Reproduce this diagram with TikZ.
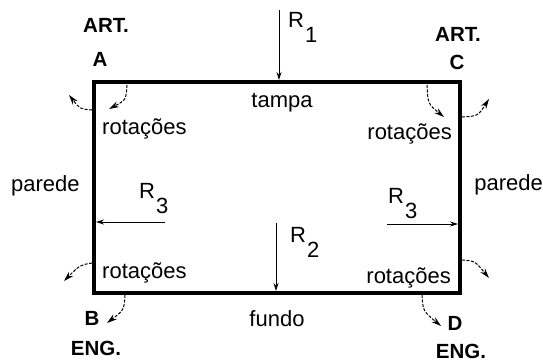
\documentclass[tikz,border=0pt]{standalone}
\usepackage{fontspec}
\setmainfont{Liberation Sans}
\usetikzlibrary{arrows.meta}
\newcommand\rlab[1]{R\kern1pt\raisebox{-15pt}{#1}}
\begin{document}
\begin{tikzpicture}[x=1pt,y=-1pt,
  txt/.style={inner sep=0pt,font=\fontsize{22}{25}\selectfont},
  btxt/.style={inner sep=0pt,font=\fontsize{20.5}{23}\selectfont\bfseries},
  wall/.style={line width=4pt,line join=miter},
  force/.style={line width=0.8pt,-{Stealth[length=8pt,width=5pt]}},
  rot/.style={line width=1pt,dash pattern=on 3pt off 1.5pt,-{Stealth[length=10pt,width=6pt]}}]
\useasboundingbox (0,0) rectangle (543,362);
% box
\coordinate (tl) at (94,82);
\coordinate (br) at (460,293);
\draw[wall] (tl) rectangle (br);
% corner labels
\node[btxt] (artA) at (106,25) {ART.};
\node[btxt] (labA) at (100,59) {A};
\node[btxt] (artC) at (458,34) {ART.};
\node[btxt] (labC) at (457,62) {C};
\node[btxt] (labB) at (92,318) {B};
\node[btxt] (engB) at (96,348) {ENG.};
\node[btxt] (labD) at (455,323) {D};
\node[btxt] (engD) at (461,351) {ENG.};
% texts
\node[txt,anchor=base] (tampa) at (282,107) {tampa};
\node[txt,anchor=base] (fundo) at (277,326) {fundo};
\node[txt,anchor=base west] (parL) at (11,191) {parede};
\node[txt,anchor=base east] (parR) at (543,190) {parede};
\node[txt,anchor=base west] (rotTL) at (102,134) {rotações};
\node[txt,anchor=base east] (rotTR) at (452,139) {rotações};
\node[txt,anchor=base west] (rotBL) at (102,278) {rotações};
\node[txt,anchor=base east] (rotBR) at (451,283) {rotações};
% force labels
\node[txt,anchor=base west] (r1) at (288,27) {\rlab{1}};
\node[txt,anchor=base west] (r2) at (290,242) {\rlab{2}};
\node[txt,anchor=base west] (r3L) at (139,198) {\rlab{3}};
\node[txt,anchor=base west] (r3R) at (388,203) {\rlab{3}};
% force arrows
\coordinate (r1s) at (279,10);  \coordinate (r1e) at (279,80);
\coordinate (r2s) at (276,223); \coordinate (r2e) at (276,291);
\coordinate (r3Ls) at (165,222); \coordinate (r3Le) at (96,222);
\coordinate (r3Rs) at (387,224); \coordinate (r3Re) at (458,224);
\draw[force] (r1s) -- (r1e);
\draw[force] (r2s) -- (r2e);
\draw[force] (r3Ls) -- (r3Le);
\draw[force] (r3Rs) -- (r3Re);
% rotation arrows
\coordinate (aOs) at (92,110);  \coordinate (aOe) at (69,95);
\coordinate (aIs) at (127,85);  \coordinate (aIe) at (109,109);
\coordinate (cIs) at (427,85);  \coordinate (cIe) at (444,117);
\coordinate (cOs) at (462,117); \coordinate (cOe) at (489,99);
\coordinate (bOs) at (92,263);  \coordinate (bOe) at (64,281);
\coordinate (bIs) at (125,295); \coordinate (bIe) at (107,323);
\coordinate (dOs) at (462,260); \coordinate (dOe) at (489,278);
\coordinate (dIs) at (422,295); \coordinate (dIe) at (441,326);
\draw[rot] (aOs) .. controls (80,109) .. (aOe);
\draw[rot] (aIs) .. controls (126,100) .. (aIe);
\draw[rot] (cIs) .. controls (428,104) .. (cIe);
\draw[rot] (cOs) .. controls (478,116) .. (cOe);
\draw[rot] (bOs) .. controls (80,265) .. (bOe);
\draw[rot] (bIs) .. controls (124,310) .. (bIe);
\draw[rot] (dOs) .. controls (475,261) .. (dOe);
\draw[rot] (dIs) .. controls (423,311) .. (dIe);
\end{tikzpicture}
\end{document}
